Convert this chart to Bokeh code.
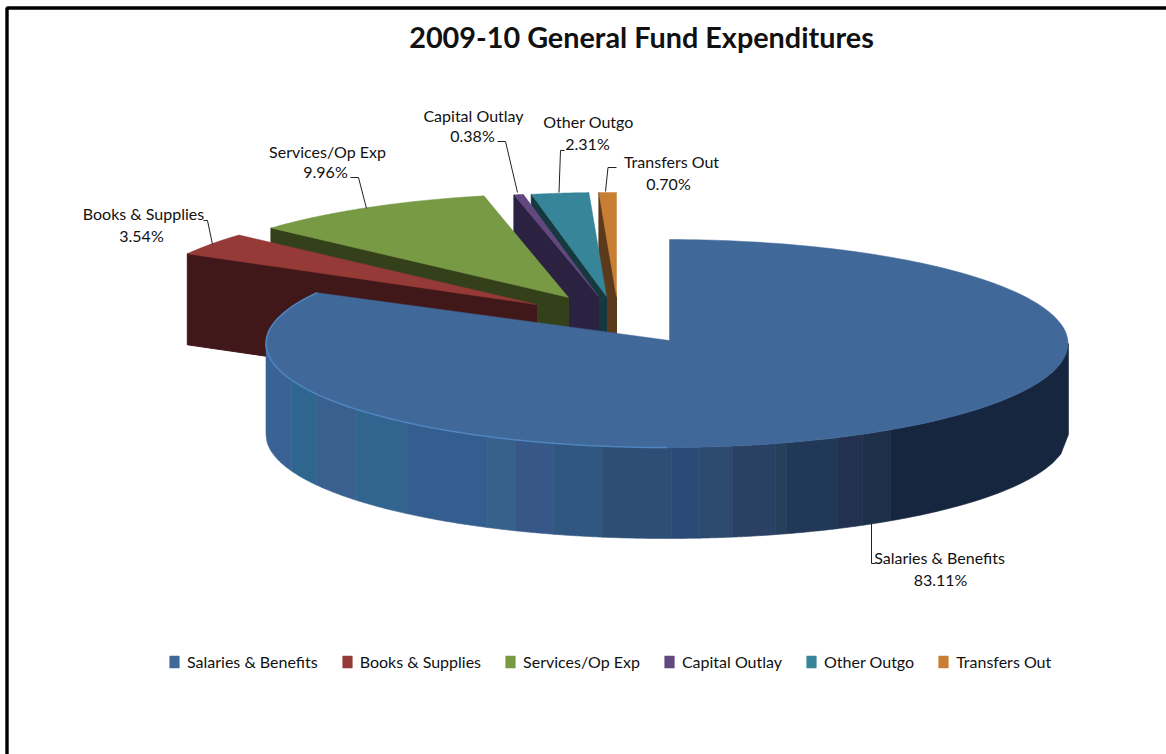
import numpy as np
from bokeh.embed import file_html
from bokeh.models import Legend, LegendItem, Range1d
from bokeh.plotting import figure
from bokeh.resources import INLINE
from bokeh.core.properties import value

# Fund shares, in percent, clockwise from twelve o'clock
categories = ["Salaries & Benefits", "Books & Supplies", "Services/Op Exp",
              "Capital Outlay", "Other Outgo", "Transfers Out"]
shares = [83.11, 3.54, 9.96, 0.38, 2.31, 0.70]
title_text = "2009-10 General Fund Expenditures"

top_colors = ["#406899", "#953a37", "#789a45", "#63487f", "#378598", "#c87f33"]
cut_colors = ["#2c4a70", "#41181a", "#33401a", "#2a2240", "#16393f", "#5a3a1a"]
LABEL_FONT = "Lato"

# Pie geometry on the page: ellipse radii, wall depth and each slice's tip
RX, RY, DEPTH = 400, 104, 91
BIG_RX, BIG_CX, BIG_CY = 401, 666.5, 343
tips = [(669, 340), (536, 304), (568, 297), (598, 296), (606, 296), (616, 296)]

# Shaded vertical bands of the large slice's front wall: (right edge, colour)
wall_bands = [(291, "#3a6294"), (316, "#2f6690"), (356, "#3a6090"), (406, "#326490"),
              (487, "#355e90"), (515, "#35618a"), (553, "#375788"), (602, "#30577f"),
              (671, "#2e4f75"), (699, "#2b4a76"), (732, "#2b4a6e"), (775, "#2a4163"),
              (786, "#263f5c"), (837, "#213857"), (862, "#23304f"), (890, "#1c3049"),
              (1068, "#17263f")]

p = figure(width=1166, height=754, output_backend="svg", toolbar_location=None,
           min_border=0, x_axis_type=None, y_axis_type=None,
           x_range=Range1d(0, 1166), y_range=Range1d(754, 0))
p.grid.visible = False
p.outline_line_color = None
p.background_fill_color = "white"
p.border_fill_color = "white"

# Page frame
p.line([6.5, 6.5, 1166], [754, 7.5, 7.5], line_color="black", line_width=3.4)


def rim(start_deg, end_deg, cx, cy, rx=RX, n=90):
    t = np.radians(np.linspace(start_deg, end_deg, n))
    return cx + rx * np.sin(t), cy - RY * np.cos(t)


edges = np.concatenate([[0], np.cumsum(shares)]) * 3.6
swatches = []

# Exploded slices, back to front, each with its visible cut wall
for i in [5, 4, 3, 2, 1]:
    tx, ty = tips[i]
    ox, oy = rim(edges[i], edges[i + 1], tx, ty)
    p.patch([ox[0], tx, tx, ox[0]], [oy[0], ty, ty + DEPTH, oy[0] + DEPTH],
            fill_color=cut_colors[i], line_color=cut_colors[i], line_width=1)
    swatches.append((i, p.patch(np.r_[tx, ox], np.r_[ty, oy], fill_color=top_colors[i],
                                line_color=top_colors[i], line_width=0.5)))

# Large slice: banded wall first, then its top face
left = BIG_CX - BIG_RX
for right, color in wall_bands:
    xs = np.linspace(left, right, 24)
    ys = BIG_CY + RY * np.sqrt(np.clip(1 - ((xs - BIG_CX) / BIG_RX) ** 2, 0, 1))
    p.patch(np.r_[xs, xs[::-1]], np.r_[ys, ys[::-1] + DEPTH],
            fill_color=color, line_color=color, line_width=0.6)
    left = right

start = np.degrees(np.arcsin((tips[0][0] - BIG_CX) / BIG_RX))
ox, oy = rim(start, edges[1], BIG_CX, BIG_CY, BIG_RX, 240)
swatches.append((0, p.patch(np.r_[tips[0][0], ox], np.r_[tips[0][1], oy],
                            fill_color=top_colors[0], line_color=top_colors[0], line_width=0.5)))
hx, hy = rim(180, edges[1], BIG_CX, BIG_CY, BIG_RX)
p.line(hx, hy, line_color="#4f86c0", line_width=1.5)

# Leader lines from labels to their slices
leaders = [
    ([871, 871, 875], [523, 563, 563]),
    ([203, 207, 212], [220, 220, 244]),
    ([350, 358, 366], [177, 177, 208]),
    ([497, 505, 517], [141, 141, 192]),
    ([564, 560, 558.5], [150, 150, 192]),
    ([616, 607.5, 605], [167, 167, 191]),
]
for lx, ly in leaders:
    p.line(lx, ly, line_color="#222222", line_width=1)

# Two-line data labels: category over percentage
label_pos = [((939, 557), (940, 579)), ((143, 213), (141, 235)), ((327, 151), (325, 171)),
             ((473, 115), (472, 135)), ((588, 121), (587, 143)), ((671, 161), (668, 183))]
for name, share, (a, b) in zip(categories, shares, label_pos):
    p.text([a[0], b[0]], [a[1], b[1]], text=[name, f"{share:.2f}%"], text_align="center",
           text_baseline="middle", text_font=value(LABEL_FONT), text_font_size="16px",
           text_color="#111111")

p.text([641], [36], text=[title_text], text_align="center", text_baseline="middle",
       text_font=value("Lato"), text_font_style="bold", text_font_size="28.8px", text_color="#111111")

swatches.sort()
legend = Legend(items=[LegendItem(label=categories[i], renderers=[r]) for i, r in swatches],
                orientation="horizontal", location=(168, 83), background_fill_alpha=0,
                border_line_color=None, glyph_width=12, glyph_height=15, label_standoff=7,
                spacing=23, padding=3, margin=0, label_text_font=LABEL_FONT,
                label_text_font_size="16px", label_text_color="#111111")
p.add_layout(legend)

open("out.html", "w").write(file_html(p, INLINE))
